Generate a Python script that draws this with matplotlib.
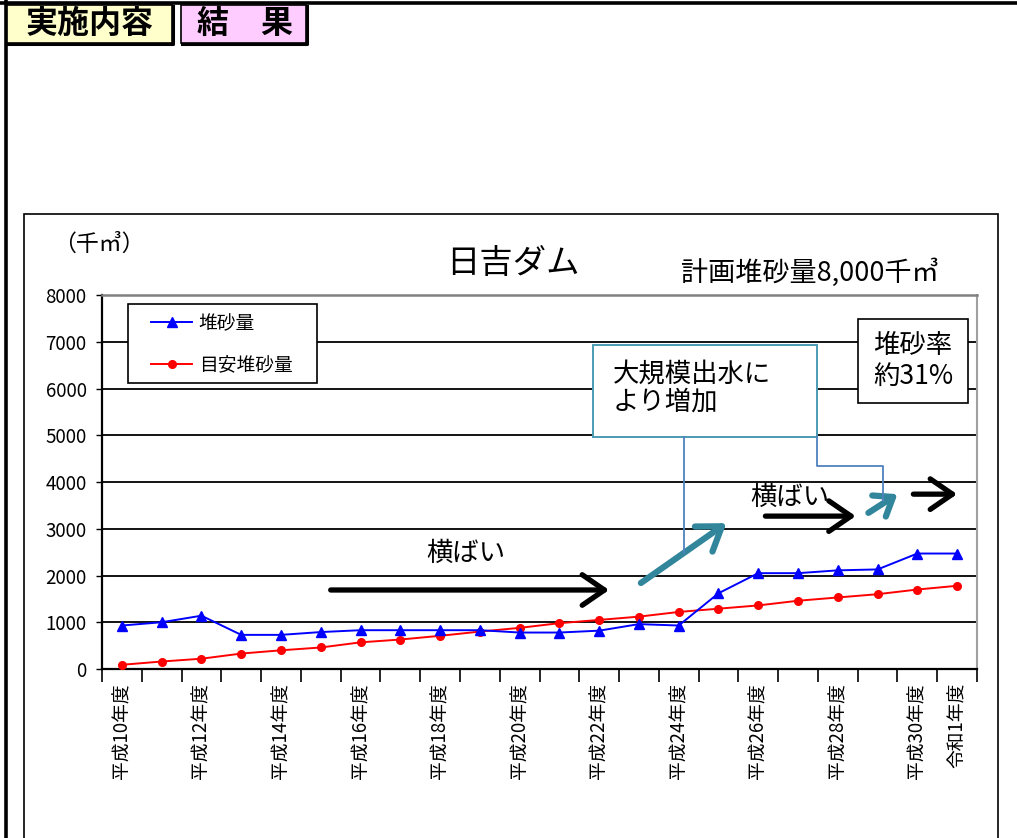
import matplotlib
matplotlib.use("Agg")
import matplotlib.pyplot as plt
from matplotlib.patches import Rectangle
from matplotlib.lines import Line2D
import numpy as np

plt.rcParams['font.family'] = ['Noto Sans CJK JP', 'DejaVu Sans']

# ---- data ----
years = ['平成10年度', '平成11年度', '平成12年度', '平成13年度', '平成14年度', '平成15年度',
         '平成16年度', '平成17年度', '平成18年度', '平成19年度', '平成20年度', '平成21年度',
         '平成22年度', '平成23年度', '平成24年度', '平成25年度', '平成26年度', '平成27年度',
         '平成28年度', '平成29年度', '平成30年度', '令和1年度']
sediment = [930, 1000, 1140, 730, 730, 790, 830, 830, 830, 830, 780, 780,
            820, 960, 930, 1620, 2050, 2050, 2110, 2130, 2470, 2470]
target = [90, 160, 220, 330, 400, 460, 570, 630, 710, 800, 880, 980,
          1050, 1120, 1220, 1290, 1360, 1460, 1530, 1600, 1700, 1780]
series_names = ['堆砂量', '目安堆砂量']
y_ticks = [0, 1000, 2000, 3000, 4000, 5000, 6000, 7000, 8000]

W, H = 1017, 838
fig = plt.figure(figsize=(W / 100, H / 100), dpi=100)
fig.patch.set_facecolor('white')


def fx(x):
    return x / W


def fy(y):
    return 1 - y / H


def frect(x0, y0, x1, y1, **kw):
    r = Rectangle((fx(x0), fy(y1)), fx(x1) - fx(x0), fy(y0) - fy(y1),
                  transform=fig.transFigure, **kw)
    fig.patches.append(r)
    return r


def fline(xs, ys, **kw):
    fig.add_artist(Line2D([fx(v) for v in xs], [fy(v) for v in ys],
                          transform=fig.transFigure, **kw))


# ---- outer page frame ----
fline([0, W], [3.5, 3.5], color='black', lw=2.6, zorder=5)
fline([5.5, 5.5], [0, H], color='black', lw=2.6, zorder=5)

# tabs
frect(7, 5, 172, 43, facecolor='#FFFFCC', edgecolor='black', lw=1.2, zorder=6)
fline([173, 173, 8], [6, 44, 44], color='black', lw=2.2, zorder=6)
frect(181, 5, 306, 43, facecolor='#FFCCFF', edgecolor='black', lw=1.2, zorder=6)
fline([307, 307, 182], [6, 44, 44], color='black', lw=2.2, zorder=6)
fig.text(fx(89.5), fy(24), '実施内容', fontsize=23, fontweight='bold',
         ha='center', va='center', zorder=7)
fig.text(fx(245), fy(24), '結\u3000果', fontsize=23, fontweight='bold',
         ha='center', va='center', zorder=7)

# chart frame
frect(24, 214, 998, 845, facecolor='white', edgecolor='black', lw=1.2, zorder=0.1)

# ---- axes ----
ax = fig.add_axes([fx(102), fy(669), fx(977) - fx(102), fy(295) - fy(669)])
ax.set_zorder(1)
x = np.arange(len(years))
ax.set_xlim(-0.5, len(years) - 0.5)
ax.set_ylim(0, 8000)
ax.set_yticks(y_ticks)
ax.set_yticklabels([str(v) for v in y_ticks], fontsize=13.5)
ax.tick_params(axis='y', length=4, width=1, pad=7)
ax.yaxis.grid(True, color='black', lw=1.3)
ax.set_axisbelow(True)

shown = [lab if (i % 2 == 0 or i == len(years) - 1) else '' for i, lab in enumerate(years)]
ax.set_xticks(x)
ax.set_xticklabels(shown, rotation=90, fontsize=13.5, va='top', ha='center')
ax.tick_params(axis='x', which='major', length=0, pad=10)
ax.set_xticks(np.arange(-0.5, len(years), 1), minor=True)
ax.tick_params(axis='x', which='minor', length=9, width=1.2, color='black')

for s in ['left', 'bottom']:
    ax.spines[s].set_color('black')
    ax.spines[s].set_linewidth(1.6)
ax.spines['top'].set_color('#808080')
ax.spines['top'].set_linewidth(1.8)
ax.spines['right'].set_color('#A0A0A0')
ax.spines['right'].set_linewidth(1.5)

l1, = ax.plot(x, sediment, color='#0000FF', lw=1.4, marker='^', markersize=7,
              label=series_names[0], zorder=4)
l2, = ax.plot(x, target, color='#FF0000', lw=1.4, marker='o', markersize=5.5,
              label=series_names[1], zorder=3)

# legend
frect(128, 304, 317, 383, facecolor='white', edgecolor='black', lw=1.2, zorder=3)
leg = fig.legend([l1, l2], series_names, loc='upper left',
                 bbox_to_anchor=(fx(151), fy(313)), frameon=False, fontsize=13.5,
                 borderpad=0, borderaxespad=0, handlelength=2.2, handletextpad=0.35,
                 labelspacing=1.1, numpoints=1)
leg.set_zorder(4)

# titles and labels
fig.text(fx(99), fy(244), '（千㎥）', fontsize=16.5, ha='center', va='center')
fig.text(fx(513), fy(263), '日吉ダム', fontsize=24, ha='center', va='center')
fig.text(fx(810), fy(273), '計画堆砂量8,000千㎥', fontsize=19.5, ha='center', va='center')

# rate box
frect(858, 319, 968, 403, facecolor='white', edgecolor='black', lw=1.2, zorder=3)
fig.text(fx(913), fy(361), '堆砂率\n約31%', fontsize=19, ha='center', va='center',
         linespacing=1.15, zorder=4)

# callout box
callout_col = '#4A9BB3'
frect(593, 345, 817, 437, facecolor='white', edgecolor=callout_col, lw=1.4, zorder=3)
fig.text(fx(613), fy(388), '大規模出水に\nより増加', fontsize=19, ha='left', va='center',
         linespacing=1.05, zorder=4)
conn_col = '#4F81BD'
fline([684, 684], [437, 553], color=conn_col, lw=1.3, zorder=4)
fline([817, 817, 883, 883], [437, 466, 466, 501], color=conn_col, lw=1.3, zorder=4)


# arrows (positions in data coords)
def arrow(x0, y0, x1, y1, color, lw, hl=0.8, hw=0.55):
    ax.annotate('', xy=(x1, y1), xytext=(x0, y0), annotation_clip=False,
                arrowprops=dict(arrowstyle=f'->,head_length={hl},head_width={hw}',
                                lw=lw, color=color, shrinkA=0, shrinkB=0,
                                mutation_scale=20),
                zorder=5)


teal = '#31869B'
arrow(5.25, 1690, 12.25, 1690, 'black', 3.8)
arrow(16.18, 3270, 18.45, 3270, 'black', 3.8)
arrow(19.9, 3740, 21.0, 3740, 'black', 3.8)
arrow(13.05, 1840, 15.2, 3120, teal, 4.5)
arrow(18.77, 3340, 19.5, 3740, teal, 4.5, hl=0.6, hw=0.45)

ax.text(8.64, 2480, '横ばい', fontsize=19, ha='center', va='center', zorder=5)
ax.text(16.8, 3680, '横ばい', fontsize=19, ha='center', va='center', zorder=5)

fig.savefig('out.png', dpi=100, facecolor='white')
